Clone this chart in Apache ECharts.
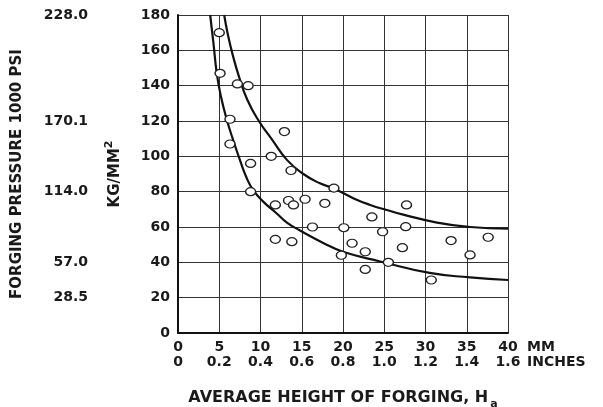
<!DOCTYPE html>
<html>
<head>
<meta charset="utf-8">
<script src="https://cdn.jsdelivr.net/npm/echarts@6/dist/echarts.min.js"></script>
<style>
  html, body { margin: 0; padding: 0; background: #fff; }
  #chart { width: 603px; height: 407px; }
</style>
</head>
<body>
<div id="chart"></div>
<script>
// measured points: forging height (mm) vs pressure (kg/mm2)
const heightMm = [5.0, 5.1, 6.3, 6.3, 7.2, 8.5, 8.8, 8.8, 11.3, 11.8, 11.8, 12.9, 13.4, 13.7, 14.0,
  13.8, 15.4, 16.3, 17.8, 18.9, 19.8, 20.1, 21.1, 22.7, 22.7, 23.5, 24.8, 25.5, 27.2, 27.6, 27.7,
  30.7, 33.1, 35.4, 37.6];
const pressureKg = [170, 147, 121, 107, 141, 140, 96, 80, 100, 72.5, 53, 114, 75, 92, 72.5,
  51.7, 75.7, 60, 73.4, 82, 44, 59.6, 50.8, 46, 36, 65.7, 57.3, 40, 48.3, 60.2, 72.5,
  30, 52.3, 44.2, 54.2];

// upper and lower bounding curves
const upperMm = [5.6, 6.0, 6.6, 7.4, 8.4, 9.8, 11.4, 13.2, 15.2, 17.2, 18.8, 21.3, 23.3, 25.3, 27.3, 31.4, 35.4, 40];
const upperKg = [180, 170, 158, 145, 132, 120, 109.5, 98, 90, 84.7, 82, 76.2, 72.5, 69.6, 67, 62.5, 60, 59];
const lowerMm = [3.9, 4.3, 4.7, 5.2, 5.9, 6.7, 7.5, 8.3, 9.1, 10.3, 12, 13.2, 14.8, 17.6, 20, 24.5, 30.5, 35.4, 40];
const lowerKg = [180, 164, 147, 134, 121, 109, 98, 88, 81, 74.5, 67.5, 62.5, 58, 51, 46, 40.5, 34, 31.5, 30];

// secondary pressure scale (1000 psi) shown against the kg/mm2 ticks
const psiTicks = [20, 40, 80, 120, 180];
const psiLabels = ["28.5", "57.0", "114.0", "170.1", "228.0"];

const zip = (xs, ys) => xs.map((x, i) => [x, ys[i]]);

const ink = "#1a1a1a";
const font = "DejaVu Sans";
const labelStyle = { fontFamily: font, fontWeight: "bold", fontSize: 14, color: ink };

const chart = echarts.init(document.getElementById("chart"));

chart.setOption({
  backgroundColor: "#fff",
  animation: false,
  grid: { left: 178, right: 95, top: 15, bottom: 74, outerBoundsMode: "none" },
  xAxis: [
    {
      type: "value",
      min: 0,
      max: 40,
      interval: 5,
      position: "bottom",
      axisLine: { show: true, lineStyle: { color: "#111", width: 2 } },
      axisTick: { show: false },
      axisLabel: { ...labelStyle, margin: 7 },
      splitLine: { show: true, lineStyle: { color: "#333", width: 1 } },
    },
    {
      type: "value",
      min: 0,
      max: 1.6,
      interval: 0.2,
      position: "bottom",
      offset: 15,
      axisLine: { show: false },
      axisTick: { show: false },
      splitLine: { show: false },
      axisLabel: {
        ...labelStyle,
        margin: 7,
        formatter: (v) => (v === 0 ? "0" : v.toFixed(1)),
      },
      name: "{t|AVERAGE HEIGHT OF FORGING, H}{s|a}",
      nameLocation: "middle",
      nameGap: 38,
      nameMoveOverlap: false,
      nameTextStyle: {
        rich: {
          t: { fontFamily: font, fontWeight: "bold", fontSize: 16, color: ink, lineHeight: 24 },
          s: { fontFamily: font, fontWeight: "bold", fontSize: 11, color: ink, verticalAlign: "bottom", padding: [0, 0, 0, 2] },
        },
      },
    },
  ],
  yAxis: [
    {
      type: "value",
      min: 0,
      max: 180,
      interval: 20,
      axisLine: { show: true, lineStyle: { color: "#111", width: 2 } },
      axisTick: { show: false },
      axisLabel: { ...labelStyle, margin: 8 },
      splitLine: { show: true, lineStyle: { color: "#333", width: 1 } },
      name: "{a|KG/MM}{b|2}",
      nameLocation: "middle",
      nameRotate: 90,
      nameGap: 52,
      nameMoveOverlap: false,
      nameTextStyle: {
        rich: {
          a: { fontFamily: font, fontWeight: "bold", fontSize: 15, color: ink, lineHeight: 22 },
          b: { fontFamily: font, fontWeight: "bold", fontSize: 11, color: ink, verticalAlign: "top" },
        },
      },
    },
    {
      type: "value",
      min: 0,
      max: 180,
      interval: 20,
      position: "left",
      offset: 80,
      axisLine: { show: false },
      axisTick: { show: false },
      splitLine: { show: false },
      axisLabel: {
        ...labelStyle,
        margin: 10,
        formatter: (v) => {
          const i = psiTicks.indexOf(v);
          return i >= 0 ? psiLabels[i] : "";
        },
      },
      name: "FORGING PRESSURE 1000 PSI",
      nameLocation: "middle",
      nameRotate: 90,
      nameGap: 73,
      nameMoveOverlap: false,
      nameTextStyle: { fontFamily: font, fontWeight: "bold", fontSize: 15, color: ink },
    },
  ],
  graphic: [
    { type: "text", left: 527, top: 340, style: { text: "MM", font: "bold 14px 'DejaVu Sans'", fill: ink } },
    { type: "text", left: 527, top: 355, style: { text: "INCHES", font: "bold 14px 'DejaVu Sans'", fill: ink } },
  ],
  series: [
    {
      type: "line",
      data: zip(upperMm, upperKg),
      smooth: 0.5,
      showSymbol: false,
      lineStyle: { color: "#111", width: 2.2 },
      z: 2,
    },
    {
      type: "line",
      data: zip(lowerMm, lowerKg),
      smooth: 0.5,
      showSymbol: false,
      lineStyle: { color: "#111", width: 2.2 },
      z: 2,
    },
    {
      type: "scatter",
      data: zip(heightMm, pressureKg),
      symbol: "circle",
      symbolSize: [10, 8],
      itemStyle: { color: "#fff", borderColor: "#222", borderWidth: 1.3, opacity: 1 },
      z: 3,
    },
  ],
});
</script>
</body>
</html>
